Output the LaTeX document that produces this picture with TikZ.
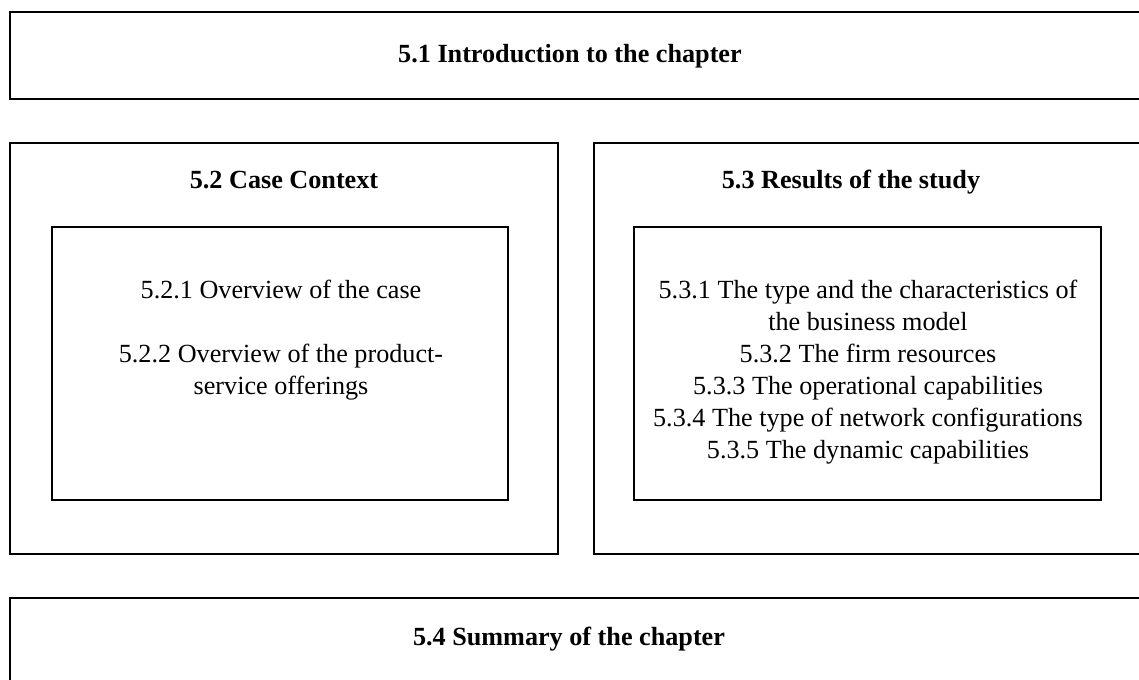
\documentclass[tikz,border=0pt]{standalone}
\usepackage{fontspec}
\setmainfont{Liberation Serif}
\usepackage{tikz}
\usetikzlibrary{positioning}

\begin{document}
\begin{tikzpicture}[
    box/.style={draw, line width=1.1pt, inner sep=0pt},
    heading/.style={font=\fontsize{14.9}{18.2}\selectfont\bfseries, anchor=base},
    body/.style={font=\fontsize{14.9}{18.2}\selectfont, align=center}
  ]
    \useasboundingbox (0,0) rectangle (22.78,13.6);

    % Draw the chapter boxes
    \node[box, minimum width=22.8cm, minimum height=1.74cm] (intro) at (11.6,12.49) {};
    \node[box, minimum width=10.96cm, minimum height=8.22cm] (case) at (5.68,6.63) {};
    \node[box, minimum width=11.12cm, minimum height=8.22cm] (results) at (17.44,6.63) {};
    \node[box, minimum width=22.8cm, minimum height=2.04cm] (summary) at (11.6,0.62) {};

    % Draw the inner boxes
    \node[box, minimum width=9.12cm, minimum height=5.46cm] (caseinner) at (5.6,6.33) {};
    \node[box, minimum width=9.34cm, minimum height=5.46cm] (resultsinner) at (17.35,6.33) {};

    % Headings (placed on their baselines)
    \node[heading] (introtitle) at (11.4,12.34) {5.1 Introduction to the chapter};
    \node[heading] (casetitle) at (5.68,9.83) {5.2 Case Context};
    \node[heading] (resultstitle) at (17.02,9.83) {5.3 Results of the study};
    \node[heading] (summarytitle) at (11.38,0.69) {5.4 Summary of the chapter};

    % Sections inside the boxes
    \node[body] (casetext) at (5.62,6.79) {5.2.1 Overview of the case\\[18.2pt]
      5.2.2 Overview of the product-\\service offerings};
    \node[body] (resultstext) at (17.36,6.15) {5.3.1 The type and the characteristics of\\
      the business model\\
      5.3.2 The firm resources\\
      5.3.3 The operational capabilities\\
      5.3.4 The type of network configurations\\
      5.3.5 The dynamic capabilities};
\end{tikzpicture}
\end{document}
